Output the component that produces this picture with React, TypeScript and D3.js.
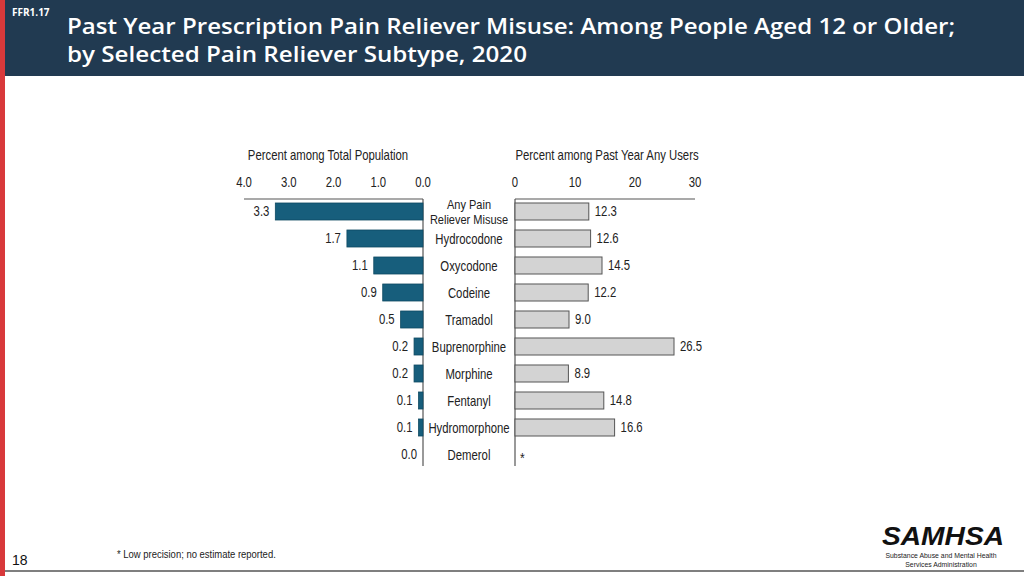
import React from "react";
import * as d3 from "d3";

const categories = [
  "Any Pain|Reliever Misuse",
  "Hydrocodone",
  "Oxycodone",
  "Codeine",
  "Tramadol",
  "Buprenorphine",
  "Morphine",
  "Fentanyl",
  "Hydromorphone",
  "Demerol",
];
const totalPopulation = [3.3, 1.7, 1.1, 0.9, 0.5, 0.2, 0.2, 0.1, 0.1, 0.0];
const pastYearUsers: (number | null)[] = [12.3, 12.6, 14.5, 12.2, 9.0, 26.5, 8.9, 14.8, 16.6, null];
const leftTicks = [4, 3, 2, 1, 0];
const rightTicks = [0, 10, 20, 30];

const SANS = "'Liberation Sans', Arial, sans-serif";
const TITLE_FONT = "'Open Sans', 'Noto Sans', sans-serif";

type NTProps = {
  x: number;
  y: number;
  anchor?: "start" | "middle" | "end";
  size?: number;
  sx?: number;
  fill?: string;
  children: React.ReactNode;
};

// condensed text: horizontally squeezed Liberation Sans
function NText({ x, y, anchor = "start", size = 14, sx = 0.81, fill = "#222", children }: NTProps) {
  return (
    <g transform={`translate(${x},${y}) scale(${sx},1)`}>
      <text x={0} y={0} textAnchor={anchor} fontFamily={SANS} fontSize={size} fill={fill}>
        {children}
      </text>
    </g>
  );
}

export default function App() {
  const W = 1024;
  const H = 576;
  const xLeft = d3.scaleLinear().domain([4, 0]).range([244, 423]);
  const xRight = d3.scaleLinear().domain([0, 30]).range([515, 695]);
  const y = d3.scaleBand<string>().domain(categories).range([198, 468]).paddingInner(0.37).paddingOuter(0.185);
  const bh = y.bandwidth();
  const fmt1 = d3.format(".1f");

  return (
    <div style={{ position: "fixed", left: 0, top: 0, width: W, height: H }}>
      <svg width={W} height={H} style={{ display: "block" }}>
        <rect x={0} y={0} width={W} height={H} fill="#ffffff" />
        {/* header */}
        <rect x={0} y={0} width={W} height={76} fill="#213a51" />
        <rect x={0} y={0} width={5} height={H} fill="#d8393b" />
        <text x={12} y={16} fill="#ffffff" fontFamily={TITLE_FONT} fontWeight={700} fontSize={10}>
          FFR1.17
        </text>
        <text x={67} y={34} fill="#ffffff" fontFamily={TITLE_FONT} fontWeight={600} fontSize={22}
          textLength={888} lengthAdjust="spacingAndGlyphs">
          Past Year Prescription Pain Reliever Misuse: Among People Aged 12 or Older;
        </text>
        <text x={67} y={62} fill="#ffffff" fontFamily={TITLE_FONT} fontWeight={600} fontSize={22}
          textLength={460} lengthAdjust="spacingAndGlyphs">
          by Selected Pain Reliever Subtype, 2020
        </text>

        {/* axis titles */}
        <NText x={328} y={160} anchor="middle">Percent among Total Population</NText>
        <NText x={607} y={160} anchor="middle">Percent among Past Year Any Users</NText>

        {/* ticks */}
        {leftTicks.map((t) => (
          <NText key={"l" + t} x={xLeft(t)} y={187} anchor="middle">{fmt1(t)}</NText>
        ))}
        {rightTicks.map((t) => (
          <NText key={"r" + t} x={xRight(t)} y={187} anchor="middle">{t}</NText>
        ))}

        {/* axis lines */}
        <line x1={xLeft(4)} x2={xLeft(0)} y1={199} y2={199} stroke="#555" strokeWidth={1.2} />
        <line x1={xLeft(0)} x2={xLeft(0)} y1={199} y2={466} stroke="#555" strokeWidth={1.2} />
        <line x1={xRight(0)} x2={xRight(30)} y1={199} y2={199} stroke="#555" strokeWidth={1.2} />
        <line x1={xRight(0)} x2={xRight(0)} y1={199} y2={466} stroke="#555" strokeWidth={1.2} />

        {categories.map((c, i) => {
          const yc = (y(c) as number) + bh / 2;
          const v = totalPopulation[i];
          const r = pastYearUsers[i];
          const lines = c.split("|");
          return (
            <g key={c}>
              {v > 0 && (
                <rect x={xLeft(v)} y={y(c)} width={xLeft(0) - xLeft(v)} height={bh}
                  fill="#175e7c" stroke="#0f4a62" strokeWidth={0.8} />
              )}
              <NText x={xLeft(v) - 6} y={yc + 4.5} anchor="end">{fmt1(v)}</NText>
              {lines.length === 1 ? (
                <NText x={469} y={yc + 5} anchor="middle">{lines[0]}</NText>
              ) : (
                <>
                  <NText x={469} y={yc - 3} anchor="middle" size={13.6}>{lines[0]}</NText>
                  <NText x={469} y={yc + 12} anchor="middle" size={13.6}>{lines[1]}</NText>
                </>
              )}
              {r !== null ? (
                <>
                  <rect x={xRight(0)} y={y(c)} width={xRight(r) - xRight(0)} height={bh}
                    fill="#d3d3d3" stroke="#555" strokeWidth={1} />
                  <NText x={xRight(r) + 6} y={yc + 4.5}>{fmt1(r)}</NText>
                </>
              ) : (
                <NText x={xRight(0) + 5} y={yc + 8} size={15}>*</NText>
              )}
            </g>
          );
        })}

        {/* footer */}
        <NText x={117} y={558} size={11.7}>* Low precision; no estimate reported.</NText>
        <text x={12} y={565} fontFamily={SANS} fontSize={14} fill="#111">
          18
        </text>
        <line x1={5} x2={W} y1={571} y2={571} stroke="#555" strokeWidth={1.5} />

        {/* logo */}
        <text x={943} y={545} textAnchor="middle" fontFamily={SANS}
          fontWeight={700} fontStyle="italic" fontSize={25} fill="#111" textLength={122} lengthAdjust="spacingAndGlyphs">
          SAMHSA
        </text>
        <NText x={941} y={558} anchor="middle" size={8} sx={0.86}>Substance Abuse and Mental Health</NText>
        <NText x={941} y={567} anchor="middle" size={8} sx={0.86}>Services Administration</NText>
      </svg>
    </div>
  );
}
